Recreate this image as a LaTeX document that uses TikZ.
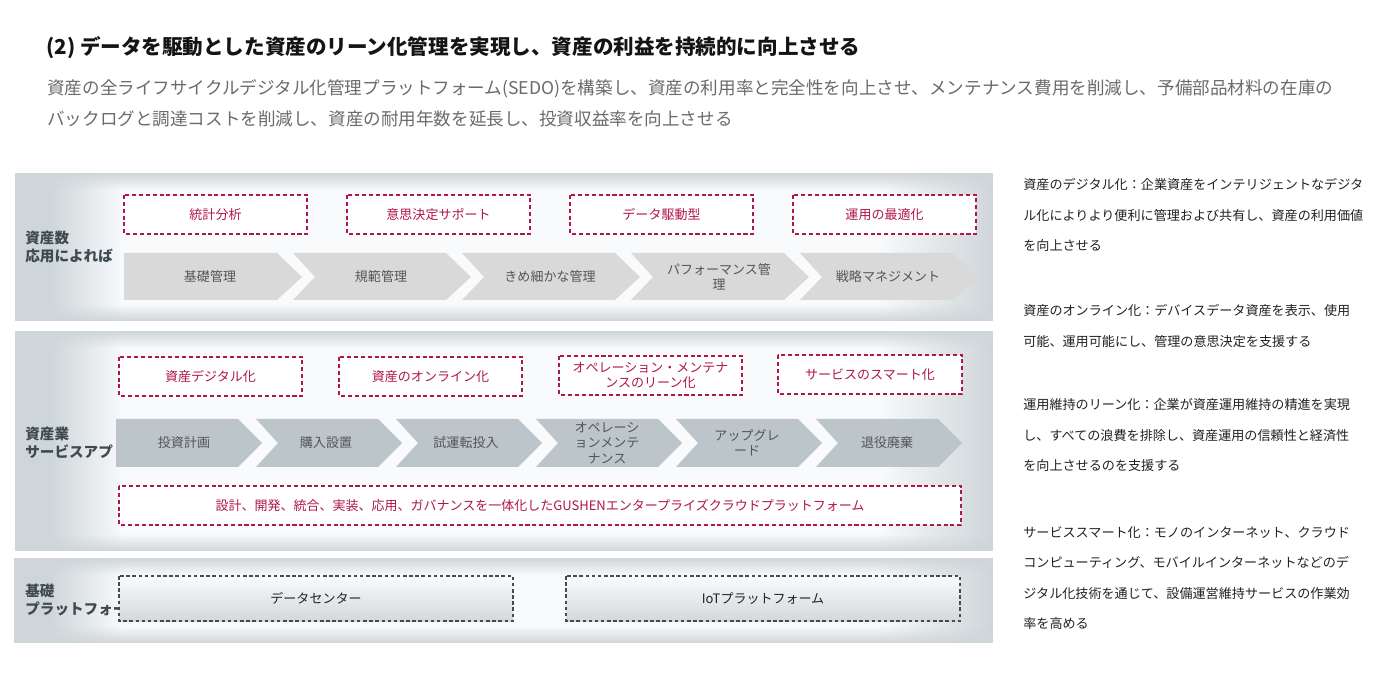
\documentclass[tikz,border=0pt]{standalone}
\usepackage{fontspec}
\setmainfont{Noto Sans CJK JP}
\usepackage{xcolor}
\usepackage{tikz}
\usetikzlibrary{fadings}
\definecolor{ink}      {HTML}{141414}
\definecolor{ink2}     {HTML}{222222}
\definecolor{subgray}  {HTML}{6B6B6B}
\definecolor{bandgray} {HTML}{CFD6D9}
\definecolor{bandlight}{HTML}{F8FAFC}
\definecolor{tagred}   {HTML}{B0154E}
\definecolor{chevfillA}{HTML}{D9D9D9}
\definecolor{chevfillB}{HTML}{BCC5C9}
\definecolor{chevink}  {HTML}{555555}
\definecolor{labink}   {HTML}{3E4A51}
\definecolor{infratop} {HTML}{FAFBFC}
\definecolor{infrabot} {HTML}{D2D8DB}
\definecolor{infraline}{HTML}{4A4A4A}
\tikzfading[name=fade right, left color=transparent!0, right color=transparent!100]
\tikzfading[name=fade left, left color=transparent!100, right color=transparent!0]
\tikzfading[name=fade down, top color=transparent!0, bottom color=transparent!100]
\tikzfading[name=fade up, top color=transparent!100, bottom color=transparent!0]
\tikzset{
  headtxt/.style  = {font=\fontsize{11.7pt}{14pt}\selectfont\bfseries, text=ink,
                     anchor=west, inner sep=0pt},
  leadtxt/.style  = {font=\fontsize{10pt}{17.6pt}\selectfont, text=subgray,
                     align=left, anchor=north west, inner sep=0pt},
  bandlbl/.style  = {font=\fontsize{8.3pt}{10.2pt}\selectfont\bfseries, text=labink,
                     align=left, anchor=west, inner sep=0pt},
  tagbox/.style   = {draw=tagred, fill=white, line width=0.6pt,
                     dash pattern=on 2.3pt off 1.6pt},
  tagtxt/.style   = {font=\fontsize{7.4pt}{9pt}\selectfont, text=tagred,
                     align=center, inner sep=0pt},
  chevA/.style    = {fill=chevfillA},
  chevB/.style    = {fill=chevfillB},
  chevtxt/.style  = {font=\fontsize{7.4pt}{8.7pt}\selectfont, text=chevink,
                     align=center, inner sep=0pt},
  infrabox/.style = {top color=infratop, bottom color=infrabot, draw=infraline,
                     line width=0.6pt, dash pattern=on 2pt off 1.5pt},
  infratxt/.style = {font=\fontsize{7.4pt}{9pt}\selectfont, text=ink2, inner sep=0pt},
  notetxt/.style  = {font=\fontsize{7.45pt}{17.4pt}\selectfont, text=ink2,
                     align=left, anchor=north west, inner sep=0pt},
}

\begin{document}
\begin{tikzpicture}[x=0.2mm, y=-0.2mm]
  \useasboundingbox (0,0) rectangle (1380,700);
  \fill[white] (0,0) rectangle (1380,700);

  % heading
  \node[headtxt] (head) at (46,48) {(2)~データを駆動とした資産のリーン化管理を実現し、資産の利益を持続的に向上させる};
  \node[leadtxt] (lead) at (47,79)
    {資産の全ライフサイクルデジタル化管理プラットフォーム(SEDO)を構築し、資産の利用率と完全性を向上させ、メンテナンス費用を削減し、予備部品材料の在庫の\\
     バックログと調達コストを削減し、資産の耐用年数を延長し、投資収益率を向上させる};

  % three bands, grey edges
  \foreach \bx/\ya/\yb in {15/173/321, 15/331/551, 14/558/643} {
    \fill[bandlight] (\bx,\ya) rectangle (993,\yb);
    \fill[bandgray] (\bx,\ya) rectangle (50,\yb);
    \fill[bandgray, path fading=fade right] (50,\ya) rectangle (122,\yb);
    \fill[bandgray, path fading=fade left] (880,\ya) rectangle (993,\yb);
    \fill[bandgray, path fading=fade down] (\bx,\ya) rectangle (993,\ya+17);
    \fill[bandgray, path fading=fade up] (\bx,\yb-17) rectangle (993,\yb);
  }
  \node[bandlbl] (l1) at (25,247) {資産数\\応用によれば};
  \node[bandlbl] (l2) at (25,443) {資産業\\サービスアプ};
  \node[bandlbl] (l3) at (25,600) {基礎\\プラットフォー};

  % band 1
  \draw[tagbox] (124,195) rectangle (307,234);
  \node[tagtxt] (t1) at (215.5,214.5) {統計分析};
  \draw[tagbox] (347,195) rectangle (530,234);
  \node[tagtxt] (t2) at (438.5,214.5) {意思決定サポート};
  \draw[tagbox] (570,195) rectangle (753,234);
  \node[tagtxt] (t3) at (661.5,214.5) {データ駆動型};
  \draw[tagbox] (793,195) rectangle (976,234);
  \node[tagtxt] (t4) at (884.5,214.5) {運用の最適化};

  \fill[chevA] (124,253) -- (277,253) -- (302,277) -- (277,300) -- (124,300) -- cycle;
  \node[chevtxt] (c1) at (210,277) {基礎管理};
  \fill[chevA] (293,253) -- (446,253) -- (471,277) -- (446,300) -- (293,300) -- (315,277) -- cycle;
  \node[chevtxt] (c2) at (381,277) {規範管理};
  \fill[chevA] (462,253) -- (615,253) -- (640,277) -- (615,300) -- (462,300) -- (484,277) -- cycle;
  \node[chevtxt] (c3) at (550,277) {きめ細かな管理};
  \fill[chevA] (631,253) -- (784,253) -- (809,277) -- (784,300) -- (631,300) -- (653,277) -- cycle;
  \node[chevtxt] (c4) at (719,277) {パフォーマンス管\\理};
  \fill[chevA] (800,253) -- (953,253) -- (978,277) -- (953,300) -- (800,300) -- (822,277) -- cycle;
  \node[chevtxt] (c5) at (888,277) {戦略マネジメント};

  % band 2
  \draw[tagbox] (119,357) rectangle (302,396);
  \node[tagtxt] (u1) at (210.5,376.5) {資産デジタル化};
  \draw[tagbox] (339,357) rectangle (522,396);
  \node[tagtxt] (u2) at (430.5,376.5) {資産のオンライン化};
  \draw[tagbox] (559,356) rectangle (742,395);
  \node[tagtxt] (u3) at (650.5,375.5) {オペレーション・メンテナ\\ンスのリーン化};
  \draw[tagbox] (778,355) rectangle (962,394);
  \node[tagtxt] (u4) at (870,374.5) {サービスのスマート化};

  \fill[chevB] (116,419) -- (238,419) -- (262,443) -- (238,467) -- (116,467) -- cycle;
  \node[chevtxt] (d1) at (184,443) {投資計画};
  \fill[chevB] (256,419) -- (378,419) -- (402,443) -- (378,467) -- (256,467) -- (278,443) -- cycle;
  \node[chevtxt] (d2) at (326,443) {購入設置};
  \fill[chevB] (396,419) -- (518,419) -- (542,443) -- (518,467) -- (396,467) -- (418,443) -- cycle;
  \node[chevtxt] (d3) at (466,443) {試運転投入};
  \fill[chevB] (536,419) -- (658,419) -- (682,443) -- (658,467) -- (536,467) -- (558,443) -- cycle;
  \node[chevtxt] (d4) at (607,443) {オペレーシ\\ョンメンテ\\ナンス};
  \fill[chevB] (676,419) -- (798,419) -- (822,443) -- (798,467) -- (676,467) -- (698,443) -- cycle;
  \node[chevtxt] (d5) at (747,443) {アップグレ\\ード};
  \fill[chevB] (816,419) -- (938,419) -- (962,443) -- (938,467) -- (816,467) -- (838,443) -- cycle;
  \node[chevtxt] (d6) at (887,443) {退役廃棄};

  \draw[tagbox] (119,486) rectangle (961,525);
  \node[tagtxt] (u5) at (540,505.5) {設計、開発、統合、実装、応用、ガバナンスを一体化したGUSHENエンタープライズクラウドプラットフォーム};

  % band 3
  \draw[infrabox] (119,576) rectangle (513,621);
  \node[infratxt] (i1) at (316,598.5) {データセンター};
  \draw[infrabox] (566,576) rectangle (960,621);
  \node[infratxt] (i2) at (763,598.5) {IoTプラットフォーム};

  % notes on the right
  \node[notetxt] (n1) at (1023,178)
    {資産のデジタル化：企業資産をインテリジェントなデジタ\\ル化によりより便利に管理および共有し、資産の利用価値\\を向上させる};
  \node[notetxt] (n2) at (1023,304)
    {資産のオンライン化：デバイスデータ資産を表示、使用\\可能、運用可能にし、管理の意思決定を支援する};
  \node[notetxt] (n3) at (1023,398)
    {運用維持のリーン化：企業が資産運用維持の精進を実現\\し、すべての浪費を排除し、資産運用の信頼性と経済性\\を向上させるのを支援する};
  \node[notetxt] (n4) at (1023,526)
    {サービススマート化：モノのインターネット、クラウド\\コンピューティング、モバイルインターネットなどのデ\\ジタル化技術を通じて、設備運営維持サービスの作業効\\率を高める};
\end{tikzpicture}
\end{document}
